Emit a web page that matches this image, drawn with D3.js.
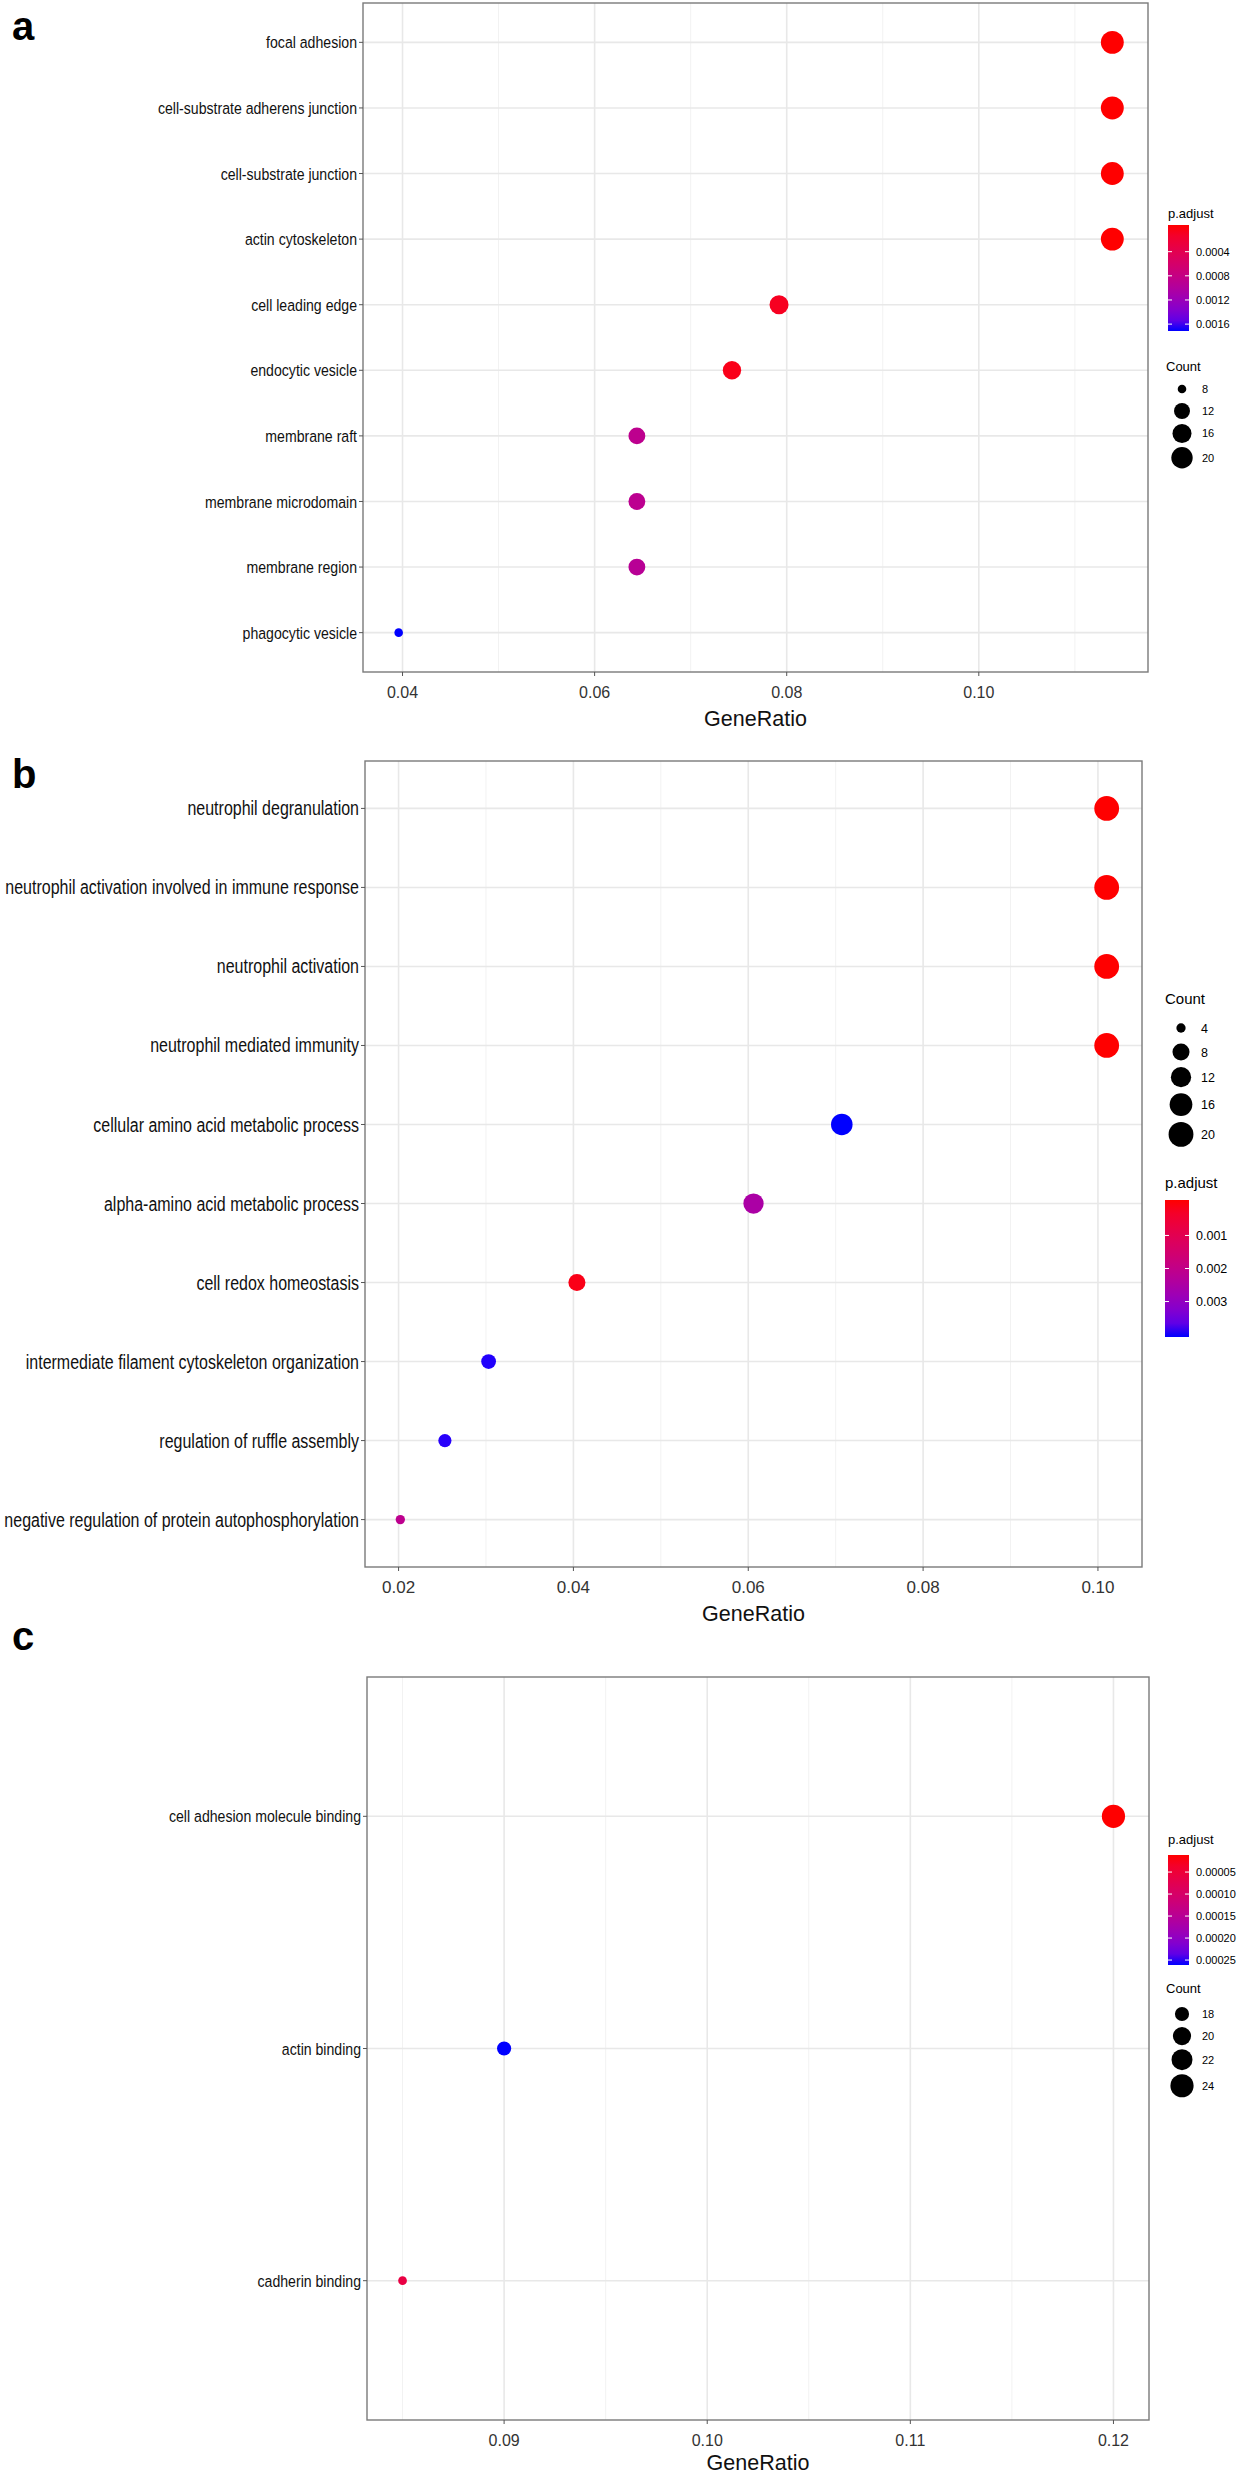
<!DOCTYPE html>
<meta charset="utf-8">
<style>
body { margin: 0; background: #fff; font-family: "Liberation Sans", Arial, Helvetica, sans-serif; }
svg { display: block; }
</style>
<body>
<script src="https://d3js.org/d3.v7.min.js"></script>
<script>

// ---- panel a : cellular component ----
const aTerms = ["focal adhesion", "cell-substrate adherens junction", "cell-substrate junction",
  "actin cytoskeleton", "cell leading edge", "endocytic vesicle", "membrane raft",
  "membrane microdomain", "membrane region", "phagocytic vesicle"];
const aRatio = [0.1139, 0.1139, 0.1139, 0.1139, 0.0792, 0.0743, 0.0644, 0.0644, 0.0644, 0.0396];
const aCount = [23, 23, 23, 23, 16, 15, 13, 13, 13, 8];
const aPadj = [0.000002, 0.000002, 0.000002, 0.000003, 0.00012, 0.00008, 0.00088, 0.00089, 0.00093, 0.00167];
const aRatioTicks = [0.04, 0.06, 0.08, 0.10];
const aPadjTicks = [0.0004, 0.0008, 0.0012, 0.0016];
const aCountTicks = [8, 12, 16, 20];

// ---- panel b : biological process ----
const bTerms = ["neutrophil degranulation", "neutrophil activation involved in immune response",
  "neutrophil activation", "neutrophil mediated immunity", "cellular amino acid metabolic process",
  "alpha-amino acid metabolic process", "cell redox homeostasis",
  "intermediate filament cytoskeleton organization", "regulation of ruffle assembly",
  "negative regulation of protein autophosphorylation"];
const bRatio = [0.1010, 0.1010, 0.1010, 0.1010, 0.0707, 0.0606, 0.0404, 0.0303, 0.0253, 0.0202];
const bCount = [20, 20, 20, 20, 14, 12, 8, 6, 5, 4];
const bPadj = [0.00003, 0.00003, 0.00003, 0.00003, 0.00397, 0.0025, 0.0002, 0.00392, 0.00390, 0.0021];
const bRatioTicks = [0.02, 0.04, 0.06, 0.08, 0.10];
const bPadjTicks = [0.001, 0.002, 0.003];
const bCountTicks = [4, 8, 12, 16, 20];

// ---- panel c : molecular function ----
const cTerms = ["cell adhesion molecule binding", "actin binding", "cadherin binding"];
const cRatio = [0.120, 0.090, 0.085];
const cCount = [24, 18, 17];
const cPadj = [0.0000175, 0.000255, 0.000065];
const cRatioTicks = [0.09, 0.10, 0.11, 0.12];
const cPadjTicks = [0.00005, 0.00010, 0.00015, 0.00020, 0.00025];
const cCountTicks = [18, 20, 22, 24];

const svg = d3.select("body").append("svg")
  .attr("width", 1240).attr("height", 2481);

function panel(o) {
  let g = svg.append("g");

  let rmin = d3.min(o.ratio), rmax = d3.max(o.ratio), pad = (rmax - rmin) * 0.05;
  let x = d3.scaleLinear().domain([rmin - pad, rmax + pad]).range([o.left, o.right]);
  let y = d3.scalePoint().domain(o.terms).range([o.top, o.bottom]).padding(0.6);

  let cmin = d3.min(o.count), cmax = d3.max(o.count);
  let size = d3.scaleSqrt().domain([0, cmax - cmin]).range([3 * o.k, 8 * o.k]);
  let r = c => size(c - cmin);

  let pext = d3.extent(o.padj);
  let color = d3.scaleLinear().domain(pext).range(["red", "blue"]).interpolate(d3.interpolateLab);

  // grid
  let step = o.ticks[1] - o.ticks[0];
  let minor = [o.ticks[0] - step / 2].concat(o.ticks.map(t => t + step / 2))
    .filter(t => t > x.domain()[0] && t < x.domain()[1]);
  g.selectAll(".minor").data(minor).join("line")
    .attr("x1", d => x(d)).attr("x2", d => x(d))
    .attr("y1", o.top).attr("y2", o.bottom)
    .attr("stroke", "#f2f2f2").attr("stroke-width", 1);
  g.selectAll(".major").data(o.ticks).join("line")
    .attr("x1", d => x(d)).attr("x2", d => x(d))
    .attr("y1", o.top).attr("y2", o.bottom)
    .attr("stroke", "#e8e8e8").attr("stroke-width", 1.6);
  g.selectAll(".hgrid").data(o.terms).join("line")
    .attr("x1", o.left).attr("x2", o.right)
    .attr("y1", d => y(d)).attr("y2", d => y(d))
    .attr("stroke", "#e8e8e8").attr("stroke-width", 1.6);

  // points
  g.selectAll("circle.dot").data(o.terms).join("circle")
    .attr("class", "dot")
    .attr("cx", (d, i) => x(o.ratio[i]))
    .attr("cy", d => y(d))
    .attr("r", (d, i) => r(o.count[i]))
    .attr("fill", (d, i) => color(o.padj[i]));

  // border
  g.append("rect")
    .attr("x", o.left).attr("y", o.top)
    .attr("width", o.right - o.left).attr("height", o.bottom - o.top)
    .attr("fill", "none").attr("stroke", "#7a7a7a").attr("stroke-width", 1.4);

  // y axis
  g.selectAll(".ytick").data(o.terms).join("line")
    .attr("x1", o.left - 4).attr("x2", o.left)
    .attr("y1", d => y(d)).attr("y2", d => y(d))
    .attr("stroke", "#555").attr("stroke-width", 1);
  g.selectAll(".ylab").data(o.terms).join("text")
    .attr("transform", d => "translate(" + (o.left - 6) + "," + y(d) + ") scale(" + o.sx + ",1)")
    .attr("text-anchor", "end").attr("dy", "0.36em")
    .attr("font-size", o.yfont).attr("fill", "#111")
    .text(d => d);

  // x axis
  g.selectAll(".xtick").data(o.ticks).join("line")
    .attr("x1", d => x(d)).attr("x2", d => x(d))
    .attr("y1", o.bottom).attr("y2", o.bottom + 4)
    .attr("stroke", "#555").attr("stroke-width", 1);
  g.selectAll(".xlab").data(o.ticks).join("text")
    .attr("x", d => x(d)).attr("y", o.bottom + 20)
    .attr("text-anchor", "middle").attr("dy", "0.36em")
    .attr("font-size", o.xfont).attr("fill", "#333")
    .text(d => d.toFixed(2));
  g.append("text")
    .attr("x", (o.left + o.right) / 2).attr("y", o.bottom + o.titleOff)
    .attr("text-anchor", "middle").attr("dy", "0.36em")
    .attr("font-size", 21.5).attr("fill", "#111")
    .text("GeneRatio");

  // panel letter
  g.append("text")
    .attr("x", 12).attr("y", o.letterY)
    .attr("font-size", 40).attr("font-weight", "bold")
    .text(o.letter);

  // colour bar legend
  let cb = o.colorbar;
  g.append("text").attr("x", cb.x).attr("y", cb.titleY).attr("dy", "0.36em")
    .attr("font-size", o.ltitle).text("p.adjust");
  let gid = "grad" + o.letter;
  let grad = svg.append("defs").append("linearGradient").attr("id", gid)
    .attr("x1", 0).attr("x2", 0).attr("y1", 0).attr("y2", 1);
  grad.selectAll("stop").data(d3.range(0, 1.0001, 0.1)).join("stop")
    .attr("offset", d => d)
    .attr("stop-color", d => color(pext[0] + d * (pext[1] - pext[0])));
  let barY = d3.scaleLinear().domain(pext)
    .range([cb.top + cb.h * 0.025, cb.top + cb.h * 0.975]);
  g.append("rect").attr("x", cb.x).attr("y", cb.top)
    .attr("width", cb.w).attr("height", cb.h).attr("fill", "url(#" + gid + ")");
  g.selectAll(".cbt").data(o.padjTicks).join("g")
    .each(function(d) {
      let s = d3.select(this), yy = barY(d);
      s.append("line").attr("x1", cb.x).attr("x2", cb.x + 4).attr("y1", yy).attr("y2", yy)
        .attr("stroke", "#fff").attr("stroke-width", 1);
      s.append("line").attr("x1", cb.x + cb.w - 4).attr("x2", cb.x + cb.w).attr("y1", yy).attr("y2", yy)
        .attr("stroke", "#fff").attr("stroke-width", 1);
      s.append("text").attr("x", cb.x + cb.w + 7).attr("y", yy).attr("dy", "0.36em")
        .attr("font-size", o.llab).text(d.toFixed(o.padjDigits));
    });

  // size legend
  let sl = o.sizeLegend;
  g.append("text").attr("x", sl.x - 16).attr("y", sl.titleY).attr("dy", "0.36em")
    .attr("font-size", o.ltitle).text("Count");
  let yy = sl.top, prev = null;
  o.countTicks.forEach(function(c) {
    let h = Math.max(sl.minKey, 2 * r(c) + sl.pad);
    if (prev !== null) yy += (prev + h) / 2;
    prev = h;
    g.append("circle").attr("cx", sl.x).attr("cy", yy).attr("r", r(c)).attr("fill", "#000");
    g.append("text").attr("x", sl.x + 20).attr("y", yy).attr("dy", "0.36em")
      .attr("font-size", o.llab).text(c);
  });
}

panel({
  letter: "a", letterY: 40,
  terms: aTerms, ratio: aRatio, count: aCount, padj: aPadj,
  ticks: aRatioTicks, padjTicks: aPadjTicks, countTicks: aCountTicks, padjDigits: 4,
  left: 363, right: 1148, top: 3, bottom: 672, k: 1.43, titleOff: 46,
  yfont: 17, sx: 0.83, xfont: 16, ltitle: 13, llab: 11,
  colorbar: { x: 1168, titleY: 213, top: 225, h: 106, w: 21 },
  sizeLegend: { x: 1182, titleY: 366, top: 389, minKey: 22, pad: 4 }
});

panel({
  letter: "b", letterY: 788,
  terms: bTerms, ratio: bRatio, count: bCount, padj: bPadj,
  ticks: bRatioTicks, padjTicks: bPadjTicks, countTicks: bCountTicks, padjDigits: 3,
  left: 365, right: 1142, top: 761, bottom: 1567, k: 1.55, titleOff: 46,
  yfont: 19.5, sx: 0.82, xfont: 17, ltitle: 15, llab: 12.5,
  colorbar: { x: 1165, titleY: 1183, top: 1200, h: 137, w: 24 },
  sizeLegend: { x: 1181, titleY: 999, top: 1028, minKey: 24, pad: 6 }
});

panel({
  letter: "c", letterY: 1650,
  terms: cTerms, ratio: cRatio, count: cCount, padj: cPadj,
  ticks: cRatioTicks, padjTicks: cPadjTicks, countTicks: cCountTicks, padjDigits: 5,
  left: 367, right: 1149, top: 1677, bottom: 2420, k: 1.45, titleOff: 42,
  yfont: 17, sx: 0.83, xfont: 16, ltitle: 13, llab: 11,
  colorbar: { x: 1168, titleY: 1839, top: 1855, h: 110, w: 21 },
  sizeLegend: { x: 1182, titleY: 1988, top: 2014, minKey: 22, pad: 4 }
});

</script>
</body>
